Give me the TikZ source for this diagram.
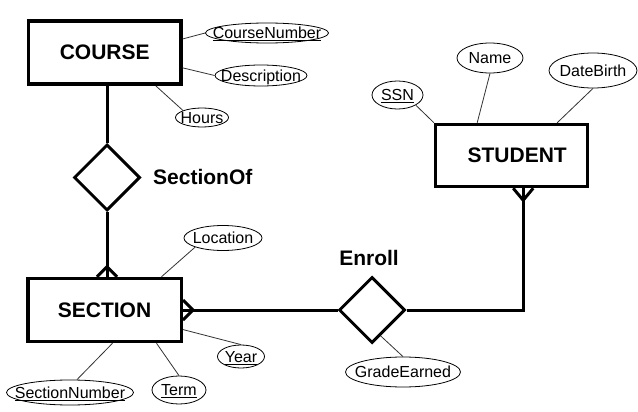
\documentclass[tikz,border=0pt]{standalone}
\usepackage{fontspec}
\setmainfont{Liberation Sans}
\usetikzlibrary{shapes.geometric,calc}
\newcommand{\attxt}[1]{\raisebox{-0.36em}[0pt][0pt]{\makebox[0pt]{#1}}}
\begin{document}
\begin{tikzpicture}[x=1pt,y=-1pt,
 entity/.style={draw, line width=3.5pt, rectangle, inner sep=0, font=\fontsize{21}{25}\selectfont\bfseries},
 rel/.style={draw, line width=3pt, diamond, minimum width=66pt, minimum height=66pt, inner sep=0},
 attr/.style={draw, ellipse, line width=0.8pt, inner sep=0, font=\fontsize{16}{19}\selectfont},
 rellabel/.style={font=\fontsize{21}{25}\selectfont\bfseries, inner sep=0},
 relline/.style={line width=3pt},
 attrline/.style={line width=0.8pt, black!80}]
\path[use as bounding box, fill=white] (0,0) rectangle (638,412);

% entities
\node[entity, minimum width=152.5pt, minimum height=63pt] (course) at (104.7,52.7) {COURSE};
\node[entity, minimum width=153.5pt, minimum height=63pt] (section) at (104.5,310) {SECTION};
\node[entity, minimum width=152pt, minimum height=62pt] (student) at (511.7,155.5) {\hspace*{11pt}STUDENT};

% relationships
\node[rel] (secof) at (107,177.5) {};
\node[rel] (enroll) at (372,310) {};
\node[rellabel, anchor=west] (secoflbl) at (153,177) {SectionOf};
\node[rellabel] (enrolllbl) at (369,258) {Enroll};

% attributes
\node[attr, minimum width=123pt, minimum height=20pt] (cnum) at (267,33) {\attxt{\underline{CourseNumber}}};
\node[attr, minimum width=92pt, minimum height=21pt] (desc) at (261,75.5) {\attxt{Description}};
\node[attr, minimum width=53pt, minimum height=19pt] (hours) at (202,117.5) {\attxt{Hours}};
\node[attr, minimum width=78pt, minimum height=25pt] (loc) at (223,238) {\attxt{Location}};
\node[attr, minimum width=47pt, minimum height=23pt] (year) at (241,356.5) {\attxt{\underline{Year}}};
\node[attr, minimum width=54pt, minimum height=28pt] (term) at (179,390) {\attxt{\underline{Term}}};
\node[attr, minimum width=127pt, minimum height=25pt] (snum) at (70,392.5) {\attxt{\underline{SectionNumber}}};
\node[attr, minimum width=115pt, minimum height=30pt] (grade) at (403,372) {\attxt{GradeEarned}};
\node[attr, minimum width=51pt, minimum height=28pt] (ssn) at (397.5,95) {\attxt{\underline{SSN}}};
\node[attr, minimum width=66pt, minimum height=30pt] (sname) at (490,58) {\attxt{Name}};
\node[attr, minimum width=88pt, minimum height=35pt] (dob) at (593,70.5) {\attxt{DateBirth}};

% relationship lines
\draw[relline] (secof.north) -- (secof.north |- course.south);
\draw[relline] (secof.south) -- (secof.south |- section.north);
\coordinate (cfa) at (secof.south |- section.north);
\draw[relline] ($(cfa)+(-10,0)$) -- ($(cfa)+(0,-10)$) -- ($(cfa)+(10,0)$);
\coordinate (cfb) at (section.east);
\draw[relline] (section.east) -- (enroll.west);
\draw[relline] ($(cfb)+(0,-10)$) -- ($(cfb)+(10,0)$) -- ($(cfb)+(0,10)$);
\coordinate (cfc) at ($(student.south)+(11.5,0)$);
\draw[relline] (enroll.east) -| (cfc);
\draw[relline] ($(cfc)+(-10,0)$) -- ($(cfc)+(0,12)$) -- ($(cfc)+(10,0)$);

% attribute lines
\draw[attrline] (course.10) -- (cnum.west);
\draw[attrline] (course.-11) -- (desc.west);
\draw[attrline] (course.-33) -- (hours.north west);
\draw[attrline] ($(section.north)+(57,0)$) -- (loc.south west);
\draw[attrline] (section.-14) -- (year.north);
\draw[attrline] ($(section.south)+(52,0)$) -- (term.north);
\draw[attrline] ($(section.south)+(8,0)$) -- ($(snum.north)+(7,0)$);
\draw[attrline] ($(enroll.south)!0.25!(enroll.east)$) -- (grade.north);
\draw[attrline] (ssn.south east) -- (student.north west);
\draw[attrline] (sname.south) -- ($(student.north)+(-34.5,0)$);
\draw[attrline] (dob.south) -- ($(student.north)+(45.5,0)$);
\end{tikzpicture}
\end{document}
